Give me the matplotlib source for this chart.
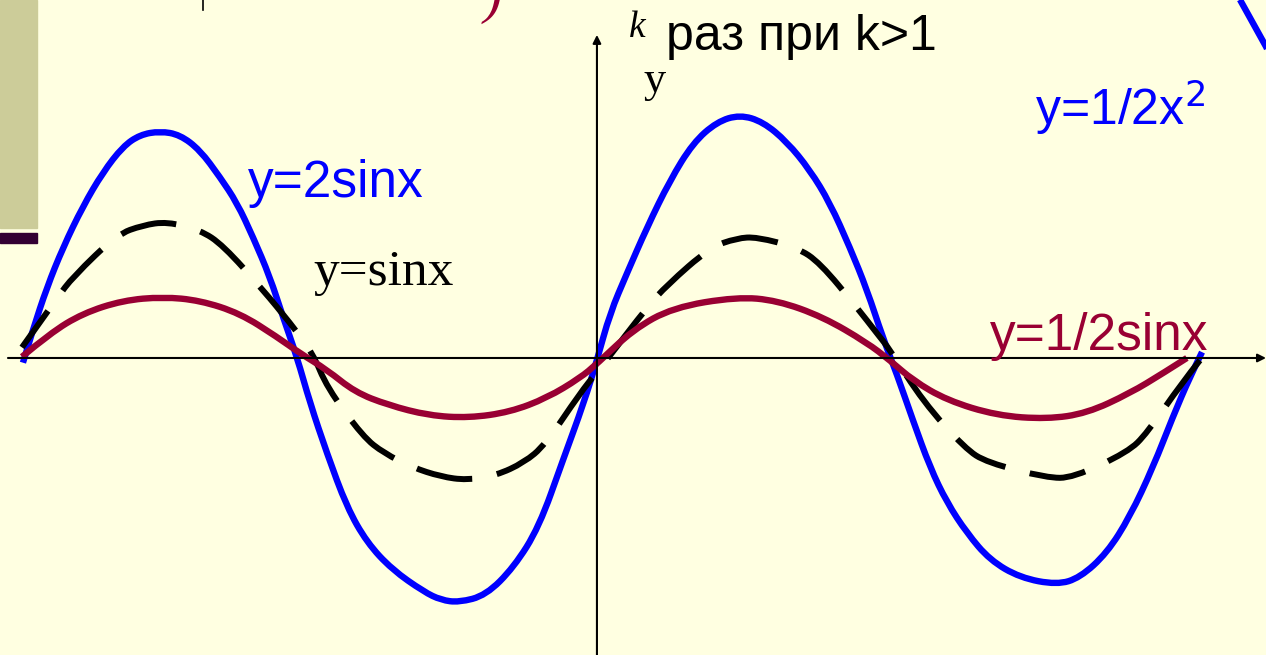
import matplotlib
matplotlib.use("Agg")
import matplotlib.pyplot as plt
from matplotlib.patches import Rectangle, PathPatch
from matplotlib.path import Path

# x in degrees, y in units
x_2sin = [-352.6, -346.5, -337.9, -328.0, -315.8, -303.5, -291.2, -280.7, -268.4, -256.2,
          -243.9, -231.6, -221.1, -211.3, -200.9, -192.9, -184.3, -176.3, -165.9, -153.6,
          -141.3, -125.9, -106.3, -95.8, -84.8, -68.2, -51.0, -35.6, -20.9, -8.0, 0.0,
          8.0, 18.4, 30.7, 44.8, 59.0, 73.7, 87.8, 102.0, 116.7, 130.8, 143.1, 155.4,
          165.9, 175.7, 184.3, 194.1, 204.6, 215.0, 227.3, 241.4, 259.9, 282.6, 296.7,
          313.3, 327.4, 341.6, 353.8, 364.3, 371.7]
y_2sin = [-0.04, 0.24, 0.60, 0.94, 1.29, 1.58, 1.80, 1.90, 1.93, 1.90,
          1.77, 1.54, 1.32, 1.03, 0.69, 0.35, 0.01, -0.38, -0.81, -1.27,
          -1.57, -1.80, -1.99, -2.06, -2.08, -2.02, -1.78, -1.44, -0.87, -0.38, -0.02,
          0.38, 0.72, 1.11, 1.51, 1.83, 2.01, 2.07, 2.01, 1.84, 1.60, 1.32, 0.94,
          0.58, 0.17, -0.14, -0.53, -0.93, -1.23, -1.49, -1.72, -1.87, -1.93, -1.87,
          -1.66, -1.35, -0.93, -0.50, -0.16, 0.05]

x_sin = [-353.2, -331.7, -321.9, -294.9, -278.9, -264.1, -243.9, -229.7, -205.2, -188.6,
         -174.5, -165.9, -143.7, -130.8, -113.6, -95.8, -79.9, -62.0, -44.8, -31.9, -10.4,
         0.0, 8.0, 30.7, 43.0, 69.4, 86.0, 98.3, 122.9, 137.0, 159.7, 172.0, 180.0,
         200.3, 226.1, 239.6, 276.4, 292.4, 326.2, 337.9, 359.4, 370.4]
y_sin = [0.09, 0.51, 0.69, 1.05, 1.13, 1.16, 1.09, 0.96, 0.58, 0.30,
         0.04, -0.25, -0.67, -0.81, -0.93, -1.01, -1.04, -1.00, -0.89, -0.74, -0.30,
         -0.12, 0.02, 0.43, 0.62, 0.94, 1.02, 1.03, 0.94, 0.81, 0.43, 0.21, 0.07,
         -0.37, -0.77, -0.89, -1.02, -1.02, -0.80, -0.64, -0.21, -0.02]

x_halfsin = [-353.2, -336.0, -315.8, -291.2, -266.6, -243.9, -219.3, -196.6, -182.4, -165.9,
             -148.7, -128.4, -103.2, -78.6, -53.4, -30.7, -10.4, 0.0, 22.1, 46.7, 86.0,
             110.6, 138.8, 165.9, 180.0, 194.1, 215.0, 245.7, 276.4, 301.0, 327.4, 347.7,
             362.4]
y_halfsin = [0.01, 0.21, 0.38, 0.49, 0.52, 0.49, 0.38, 0.18, 0.04, -0.10,
             -0.29, -0.40, -0.49, -0.51, -0.46, -0.34, -0.17, -0.05, 0.24, 0.43, 0.52,
             0.49, 0.35, 0.13, -0.02, -0.19, -0.36, -0.49, -0.52, -0.47, -0.30, -0.13,
             0.00]

# piece of the parabola y=1/2x^2 seen in the top right corner
x_parab = [395.0, 411.0, 416.5]
y_parab = [3.05, 2.65, 2.49]

BG = "#FFFFE1"
BLUE = "#0000FF"
MAROON = "#990033"


def smooth_path(xs, ys):
    # quadratic curve pieces through the midpoints, the read points act as control points
    pts = list(zip(xs, ys))
    verts = [pts[0]]
    codes = [Path.MOVETO]
    for i in range(1, len(pts) - 1):
        mid = ((pts[i][0] + pts[i + 1][0]) / 2, (pts[i][1] + pts[i + 1][1]) / 2)
        if i == len(pts) - 2:
            mid = pts[-1]
        verts += [pts[i], mid]
        codes += [Path.CURVE3, Path.CURVE3]
    return Path(verts, codes)


fig = plt.figure(figsize=(12.66, 6.55), dpi=100, facecolor=BG)
ax = fig.add_axes([0, 0, 1, 1])
ax.set_facecolor(BG)
ax.set_xlim(-366.7, 411.0)
ax.set_ylim(-2.528, 3.047)
ax.axis("off")

# axes with arrows
ax.annotate("", xy=(411.0, 0), xytext=(-361.8, 0),
            arrowprops=dict(arrowstyle="-|>", color="black", lw=1.5,
                            mutation_scale=12, shrinkA=0, shrinkB=0))
ax.annotate("", xy=(0, 2.75), xytext=(0, -2.528),
            arrowprops=dict(arrowstyle="-|>", color="black", lw=1.5,
                            mutation_scale=12, shrinkA=0, shrinkB=0))

ax.add_patch(PathPatch(smooth_path(x_2sin, y_2sin), fill=False, edgecolor=BLUE, lw=4.6,
                       capstyle="butt"))
ax.plot(x_parab, y_parab, color=BLUE, lw=4.6, solid_capstyle="butt")
ax.add_patch(PathPatch(smooth_path(x_sin, y_sin), fill=False, edgecolor="black", lw=4.3,
                       linestyle=(2, (9.5, 4.2)), capstyle="butt"))
ax.add_patch(PathPatch(smooth_path(x_halfsin, y_halfsin), fill=False, edgecolor=MAROON,
                       lw=4.6, capstyle="butt"))

# slide decorations at the top left
W, H = 1266, 655
fig.patches.append(Rectangle((0, 1 - 228 / H), 37 / W, 228 / H,
                             transform=fig.transFigure, color="#CCCC99", zorder=0))
fig.patches.append(Rectangle((0, 1 - 243 / H), 37 / W, 10 / H,
                             transform=fig.transFigure, color="#330033", zorder=0))
fig.add_artist(plt.Line2D([203 / W, 203 / W], [1, 1 - 10 / H], color="black", lw=1.2))
fig.text(484 / W, 1 - 12 / H, ")", color=MAROON, fontsize=40, style="italic",
         family="Liberation Serif", va="baseline")


def px_text(x, y, s, **kw):
    fig.text(x / W, 1 - y / H, s, va="baseline", ha="left", **kw)


px_text(629, 37, "k", fontsize=27, family="Liberation Serif", style="italic")
px_text(666, 50, "раз при k>1", fontsize=36, family="Liberation Sans")
px_text(644, 92, "y", fontsize=32, family="Liberation Serif")
px_text(248, 197, "y=2sinx", color=BLUE, fontsize=37, family="Liberation Sans")
px_text(313, 285, "y=sinx", color="black", fontsize=37, family="Liberation Serif")
px_text(1035, 125, "y=1/2x$^2$", color=BLUE, fontsize=36, family="Liberation Sans")
px_text(990, 350, "y=1/2sinx", color=MAROON, fontsize=37, family="Liberation Sans")

fig.savefig("out.png", dpi=100, facecolor=BG)
